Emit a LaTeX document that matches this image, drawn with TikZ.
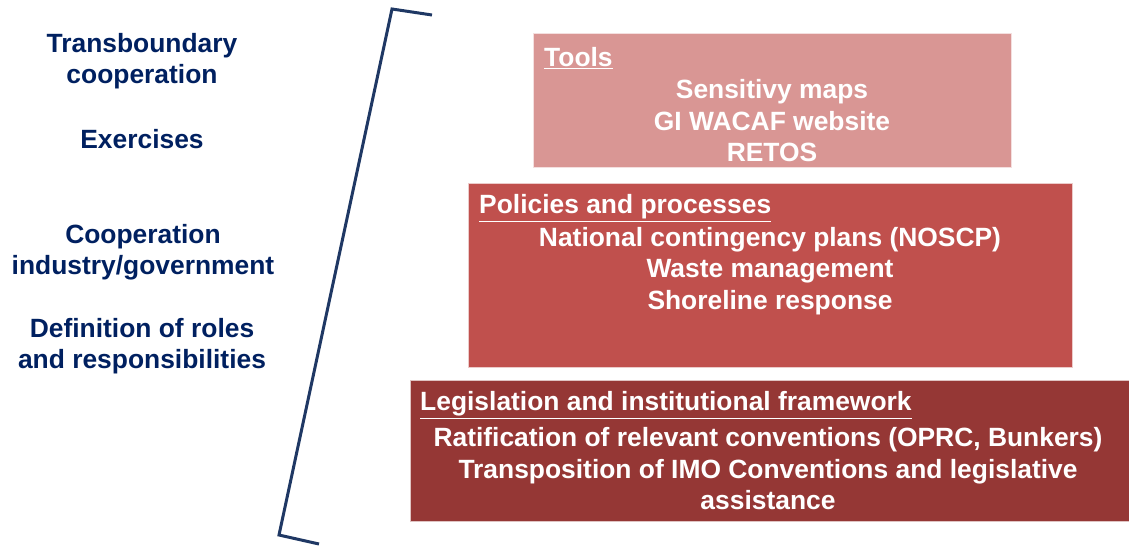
\documentclass[tikz,border=0pt]{standalone}
\usepackage{fontspec}
\setmainfont{Liberation Sans}
\usetikzlibrary{positioning}
\definecolor{toolred}{HTML}{D99694}
\definecolor{policyred}{HTML}{C0504D}
\definecolor{lawred}{HTML}{953735}
\definecolor{navy}{HTML}{002060}
\definecolor{bracketblue}{HTML}{1F3864}
\begin{document}
\begin{tikzpicture}[x=1pt,y=-1pt,
    level box/.style={rectangle,draw=white!70!#1,line width=0.8pt,fill=#1,inner sep=0pt},
    head text/.style={anchor=west,text=white,font=\fontsize{26.4}{31.5}\selectfont\bfseries,inner sep=0pt},
    body text/.style={align=center,text=white,font=\fontsize{26.4}{31.5}\selectfont\bfseries,inner sep=0pt},
    side text/.style={align=center,text=navy,font=\fontsize{26.4}{31.5}\selectfont\bfseries,inner sep=0pt}]
    \useasboundingbox (0,0) rectangle (1129,546);

    % left column
    \node[side text] (trans) at (142,61) {Transboundary\\cooperation};
    \node[side text] (exer) at (142,139) {Exercises};
    \node[side text] (coop) at (143,252) {Cooperation\\industry/government};
    \node[side text] (roles) at (142,346) {Definition of roles\\and responsibilities};

    % bracket
    \coordinate (bt) at (432,15);
    \coordinate (btc) at (392,9);
    \coordinate (bbc) at (279,535);
    \coordinate (bb) at (319,544);
    \draw[bracketblue,line width=3pt] (bt) -- (btc) -- (bbc) -- (bb);

    % levels
    \node[level box=toolred,minimum width=478pt,minimum height=134pt] (tools) at (772,100) {};
    \node[level box=policyred,minimum width=604pt,minimum height=184pt] (policies) at (770,275) {};
    \node[level box=lawred,minimum width=719pt,minimum height=141pt] (law) at (769.5,450.5) {};

    \node[head text] (toolshead) at (544,58) {\underline{Tools}};
    \node[body text] (toolsbody) at (772,121) {Sensitivy maps\\GI WACAF website\\RETOS};

    \node[head text] (policyhead) at (479,208) {\underline{Policies and processes}};
    \node[body text] (policybody) at (770,271) {National contingency plans (NOSCP)\\Waste management\\Shoreline response};

    \node[head text] (lawhead) at (420,405) {\underline{Legislation and institutional framework}};
    \node[body text] (lawbody) at (768,469) {Ratification of relevant conventions (OPRC, Bunkers)\\Transposition of IMO Conventions and legislative\\assistance};
\end{tikzpicture}
\end{document}
